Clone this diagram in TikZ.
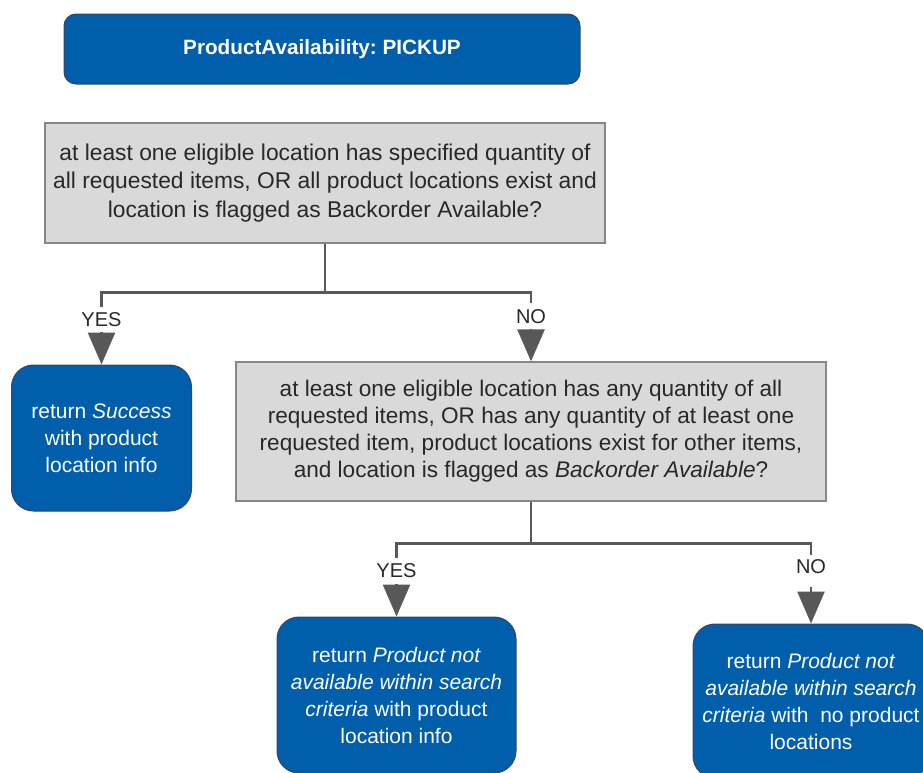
\documentclass[tikz,border=0pt]{standalone}
\usepackage{fontspec}
\setmainfont{Liberation Sans}
\usetikzlibrary{arrows.meta}
\frenchspacing

\definecolor{boxblue}{RGB}{0,94,170}
\definecolor{blueedge}{RGB}{55,70,100}
\definecolor{qgray}{RGB}{217,217,217}
\definecolor{qedge}{RGB}{135,135,135}
\definecolor{linegray}{RGB}{88,88,88}
\definecolor{txtgray}{RGB}{40,40,40}

\tikzset{
  titlebox/.style={draw=blueedge, line width=1pt, fill=boxblue, rounded corners=12pt,
    text=white, font=\bfseries\fontsize{20.7}{26}\selectfont,
    minimum width=516pt, minimum height=70pt, inner sep=0pt},
  qbox/.style={draw=qedge, line width=1.3pt, fill=qgray, text=txtgray, align=center,
    inner sep=0pt},
  qtext/.style={font=\fontsize{22.8}{28.5}\selectfont},
  rbox/.style={draw=blueedge, line width=1pt, fill=boxblue, rounded corners=22pt,
    text=white, align=center, inner sep=0pt,
    font=\fontsize{21}{27}\selectfont},
  conn/.style={draw=linegray, line width=2.6pt},
  arr/.style={draw=linegray, line width=2.6pt,
    -{Triangle[width=27pt,length=32pt]}, fill=linegray},
  lbl/.style={text=txtgray, font=\fontsize{20}{24}\selectfont, inner sep=0pt},
}

\begin{document}
\begin{tikzpicture}[x=1pt, y=-1pt]
  \useasboundingbox (0,0) rectangle (923,772);
  \clip (0,0) rectangle (923,772);

  % title
  \node[titlebox] (title) at (322,49) {ProductAvailability: PICKUP};

  % first decision
  \node[qbox, qtext, minimum width=560pt, minimum height=120pt] (q1) at (325,183)
    {at least one eligible location has specified quantity of\\
     all requested items, OR all product locations exist and\\
     location is flagged as Backorder Available?};

  % success result
  \node[rbox, minimum width=180pt, minimum height=146pt] (s1) at (101.5,438)
    {return \textit{Success}\\with product\\location info};

  % second decision
  \node[qbox, font=\fontsize{22.6}{27}\selectfont, minimum width=590pt, minimum height=139pt] (q2) at (531,431.5)
    {at least one eligible location has any quantity of all\\
     requested items, OR has any quantity of at least one\\
     requested item, product locations exist for other items,\\
     and location is flagged as \textit{Backorder Available}?};

  % final results
  \node[rbox, minimum width=239pt, minimum height=156pt] (r1) at (396.5,695)
    {return \textit{Product not}\\\textit{available within search}\\
     \textit{criteria} with product\\location info};
  \node[rbox, minimum width=236pt, minimum height=154pt] (r2) at (811,701)
    {return \textit{Product not}\\\textit{available within search}\\
     \textit{criteria} with\ \ no product\\locations};

  % branch points
  \coordinate (y1top) at (101.5,307);
  \coordinate (n1top) at (531,303);
  \coordinate (y1arr) at (101.5,332);
  \coordinate (n1arr) at (531,329);
  \coordinate (y2top) at (396.5,558);
  \coordinate (n2top) at (811,555);
  \coordinate (y2arr) at (396.5,584);
  \coordinate (n2arr) at (811,587);

  % first decision branches
  \draw[conn] (q1.south) -- ++(0,49) -| (y1top);
  \draw[conn] (q1.south) -- ++(0,49) -| (n1top);
  \node[lbl] (yes1) at (101.5,320) {YES};
  \node[lbl] (no1) at (531,317) {NO};
  \draw[arr] (y1arr) -- (s1.north);
  \draw[arr] (n1arr) -- (q2.north);

  % second decision branches
  \draw[conn] (q2.south) -- ++(0,42) -| (y2top);
  \draw[conn] (q2.south) -- ++(0,42) -| (n2top);
  \node[lbl] (yes2) at (396.5,571) {YES};
  \node[lbl] (no2) at (811,567) {NO};
  \draw[arr] (y2arr) -- (r1.north);
  \draw[arr] (n2arr) -- (r2.north);
\end{tikzpicture}
\end{document}
